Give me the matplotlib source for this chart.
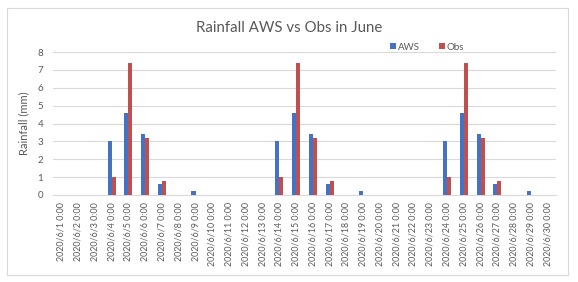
import matplotlib
matplotlib.use("Agg")
import matplotlib.pyplot as plt
import numpy as np

days = [f"2020/6/{d} 0:00" for d in range(1, 31)]
aws = [0, 0, 0, 3.0, 4.6, 3.4, 0.6, 0, 0.2, 0,
       0, 0, 0, 3.0, 4.6, 3.4, 0.6, 0, 0.2, 0,
       0, 0, 0, 3.0, 4.6, 3.4, 0.6, 0, 0.2, 0]
obs = [0, 0, 0, 1.0, 7.4, 3.2, 0.8, 0, 0, 0,
       0, 0, 0, 1.0, 7.4, 3.2, 0.8, 0, 0, 0,
       0, 0, 0, 1.0, 7.4, 3.2, 0.8, 0, 0, 0]

plt.rcParams['font.family'] = ['Lato', 'DejaVu Sans']
txt = '#595959'

fig = plt.figure(figsize=(5.78, 2.82), dpi=100)
fig.patch.set_facecolor('white')
border = plt.Rectangle((7/578, 1-275/282), (568-7)/578, (275-8)/282,
                       transform=fig.transFigure, fill=False,
                       edgecolor='#D9D9D9', linewidth=0.8)
fig.add_artist(border)

ax = fig.add_axes([53/578, 1-195/282, (556-53)/578, (195-52)/282])
x = np.arange(len(days))
w = 0.24
ax.bar(x - w/2, aws, width=w, color='#4472C4', label='AWS', zorder=3)
ax.bar(x + w/2, obs, width=w, color='#C0504D', label='Obs', zorder=3)

ax.set_xlim(-0.5, len(days) - 0.5)
ax.set_ylim(0, 8)
ax.set_yticks(range(0, 9))
ax.yaxis.grid(True, color='#D9D9D9', linewidth=0.8, zorder=0)
for s in ['top', 'right', 'left']:
    ax.spines[s].set_visible(False)
ax.spines['bottom'].set_color('#D9D9D9')
ax.spines['bottom'].set_linewidth(0.8)
ax.tick_params(axis='both', length=0, colors=txt, labelsize=7)
ax.tick_params(axis='y', pad=7)
ax.set_xticks(x)
ax.set_xticklabels(days, rotation=90, fontsize=6.4, color=txt)
ax.tick_params(axis='x', pad=5)
ax.set_ylabel('Rainfall (mm)', color=txt, fontsize=8, labelpad=6)

fig.text(0.5, 1-28/282, 'Rainfall AWS vs Obs in June', ha='center', va='center',
         fontsize=10.8, color=txt)

leg = ax.legend(loc='center', bbox_to_anchor=(427/578, 1-47/282),
                bbox_transform=fig.transFigure, ncol=2, frameon=False,
                fontsize=7, handlelength=0.6, handleheight=0.6,
                handletextpad=0.2, columnspacing=2.0, labelcolor=txt)

fig.savefig('out.png', dpi=100)
